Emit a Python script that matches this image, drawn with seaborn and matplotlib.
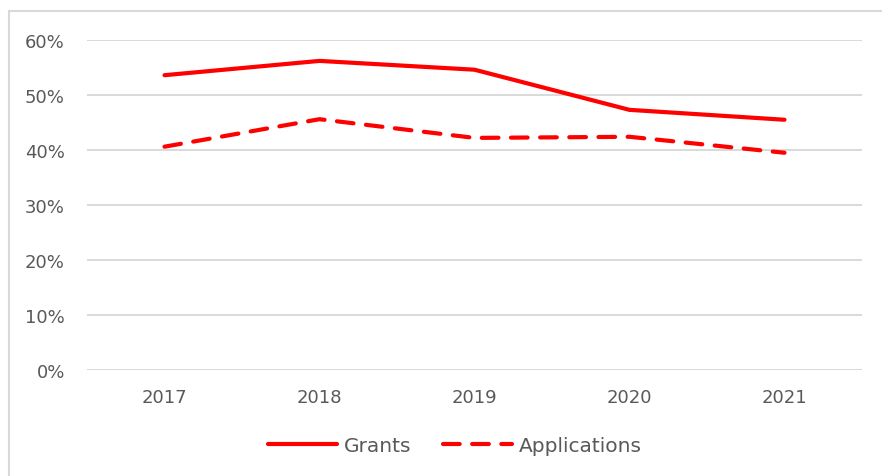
import matplotlib
matplotlib.use("Agg")
import matplotlib.pyplot as plt
import seaborn as sns
import pandas as pd
from matplotlib.patches import Rectangle
from matplotlib.lines import Line2D

years = ["2017", "2018", "2019", "2020", "2021"]
grants = [53.6, 56.2, 54.6, 47.3, 45.5]
applications = [40.6, 45.6, 42.2, 42.4, 39.5]
yticks = [0, 10, 20, 30, 40, 50, 60]

df = pd.DataFrame({
    "year": years * 2,
    "value": grants + applications,
    "series": ["Grants"] * len(years) + ["Applications"] * len(years),
})

sns.set_theme(style="white")
plt.rcParams["font.family"] = ["DejaVu Sans"]
txt = "#595959"

W, H = 882, 477
fig = plt.figure(figsize=(W / 100, H / 100), dpi=100)
ax = fig.add_axes([87 / W, 1 - 371 / H, (862 - 87) / W, (371 - 41) / H])

sns.lineplot(data=df, x="year", y="value", hue="series", style="series",
             palette={"Grants": "#ff0000", "Applications": "#ff0000"},
             dashes={"Grants": "", "Applications": (4, 3)},
             linewidth=3, ax=ax, legend=False, sort=False)
for ln in ax.lines:
    ln.set_solid_capstyle("round")
    ln.set_dash_capstyle("round")
    ln.set_solid_joinstyle("round")

ax.set_xlim(-0.5, 4.5)
ax.set_ylim(0, 60)
ax.set_yticks(yticks)
ax.set_yticklabels([f"{v}%" for v in yticks])
ax.grid(axis="y", color="#d9d9d9", linewidth=1.4)
ax.grid(axis="x", visible=False)
for s in ax.spines.values():
    s.set_visible(False)
ax.set_xlabel("")
ax.set_ylabel("")
ax.tick_params(axis="both", length=0, labelsize=13, colors=txt)
ax.tick_params(axis="x", pad=13)
ax.tick_params(axis="y", pad=16)
ax.set_axisbelow(True)

handles = [
    Line2D([], [], color="#ff0000", lw=3, solid_capstyle="round"),
    Line2D([], [], color="#ff0000", lw=3, dashes=(4, 3), dash_capstyle="round"),
]
leg = fig.legend(handles, ["Grants", "Applications"], loc="center",
                 bbox_to_anchor=(455 / W, 1 - 447 / H), ncol=2, frameon=False,
                 fontsize=14.5, handlelength=3.4, handletextpad=0.35,
                 columnspacing=1.6)
for t in leg.get_texts():
    t.set_color(txt)

fig.patches.append(Rectangle((9 / W, -0.1), 1.2, 1.1 - 12 / H,
                             transform=fig.transFigure, fill=False,
                             edgecolor="#d9d9d9", linewidth=1.5))

fig.savefig("out.png", dpi=100)
